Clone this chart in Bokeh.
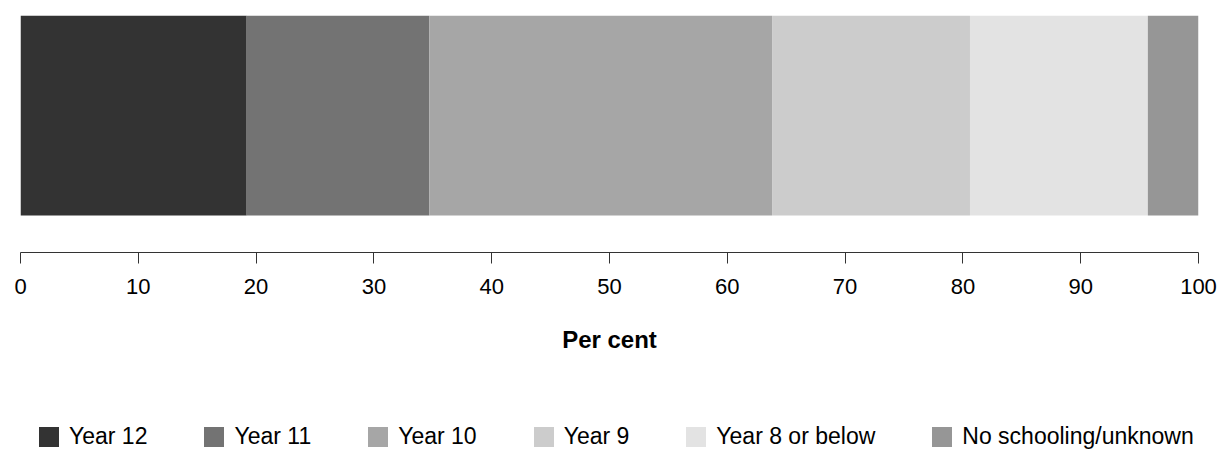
from bokeh.plotting import figure
from bokeh.models import Legend, LegendItem, Range1d, FixedTicker
from bokeh.layouts import column
from bokeh.embed import file_html
from bokeh.resources import INLINE
import numpy as np

categories = ["Year 12", "Year 11", "Year 10", "Year 9", "Year 8 or below", "No schooling/unknown"]
values = [19.2, 15.5, 29.1, 16.8, 15.1, 4.3]
colors = ["#333333", "#737373", "#a6a6a6", "#cccccc", "#e3e3e3", "#969696"]
tick_values = [0, 10, 20, 30, 40, 50, 60, 70, 80, 90, 100]
axis_title = "Per cent"

FONT = "Liberation Sans"

p = figure(width=1218, height=370, output_backend="svg", toolbar_location=None,
           x_range=Range1d(0, 100), y_range=Range1d(-0.185, 1.0),
           min_border_left=20, min_border_right=20, min_border_top=15,
           min_border_bottom=118)
p.outline_line_color = None
p.grid.visible = False
p.yaxis.visible = False

rights = np.cumsum(values)
lefts = rights - np.array(values)
for l, r, c in zip(lefts, rights, colors):
    p.hbar(y=[0.5], left=[l], right=[r], height=1.0, fill_color=c, line_color=None)

ax = p.xaxis[0]
ax.ticker = FixedTicker(ticks=tick_values)
ax.minor_tick_line_color = None
ax.major_tick_out = 11
ax.major_tick_in = 0
ax.axis_line_color = "#333333"
ax.major_tick_line_color = "#333333"
ax.major_label_text_font = FONT
ax.major_label_text_font_size = "22px"
ax.major_label_text_color = "black"
ax.major_label_standoff = 15
ax.axis_label = axis_title
ax.axis_label_text_font = FONT
ax.axis_label_text_font_size = "24px"
ax.axis_label_text_font_style = "bold"
ax.axis_label_text_color = "black"
ax.axis_label_standoff = 29

# legend-only figure (zero-width bars: only their legend swatches are seen)
q = figure(width=1218, height=80, output_backend="svg", toolbar_location=None,
           x_range=Range1d(0, 100), y_range=Range1d(0, 1),
           x_axis_type=None, y_axis_type=None,
           min_border_left=20, min_border_right=20, min_border_top=0, min_border_bottom=0)
q.outline_line_color = None
q.grid.visible = False
items = []
for cat, l, c in zip(categories, lefts, colors):
    rr = q.hbar(y=[0.5], left=[l], right=[l], height=0.0, fill_color=c, line_color=None)
    items.append(LegendItem(label=cat, renderers=[rr]))

legend = Legend(items=items, orientation="horizontal", location=(16, 0))
legend.padding = 0
legend.margin = 0
legend.border_line_color = None
legend.background_fill_alpha = 0
legend.glyph_width = 25
legend.glyph_height = 25
legend.label_height = 25
legend.label_standoff = 8
legend.spacing = 54
legend.label_text_font = FONT
legend.label_text_font_size = "23px"
legend.label_text_color = "black"
q.add_layout(legend, "center")

layout = column(p, q, spacing=0)
open("out.html", "w").write(file_html(layout, INLINE))
